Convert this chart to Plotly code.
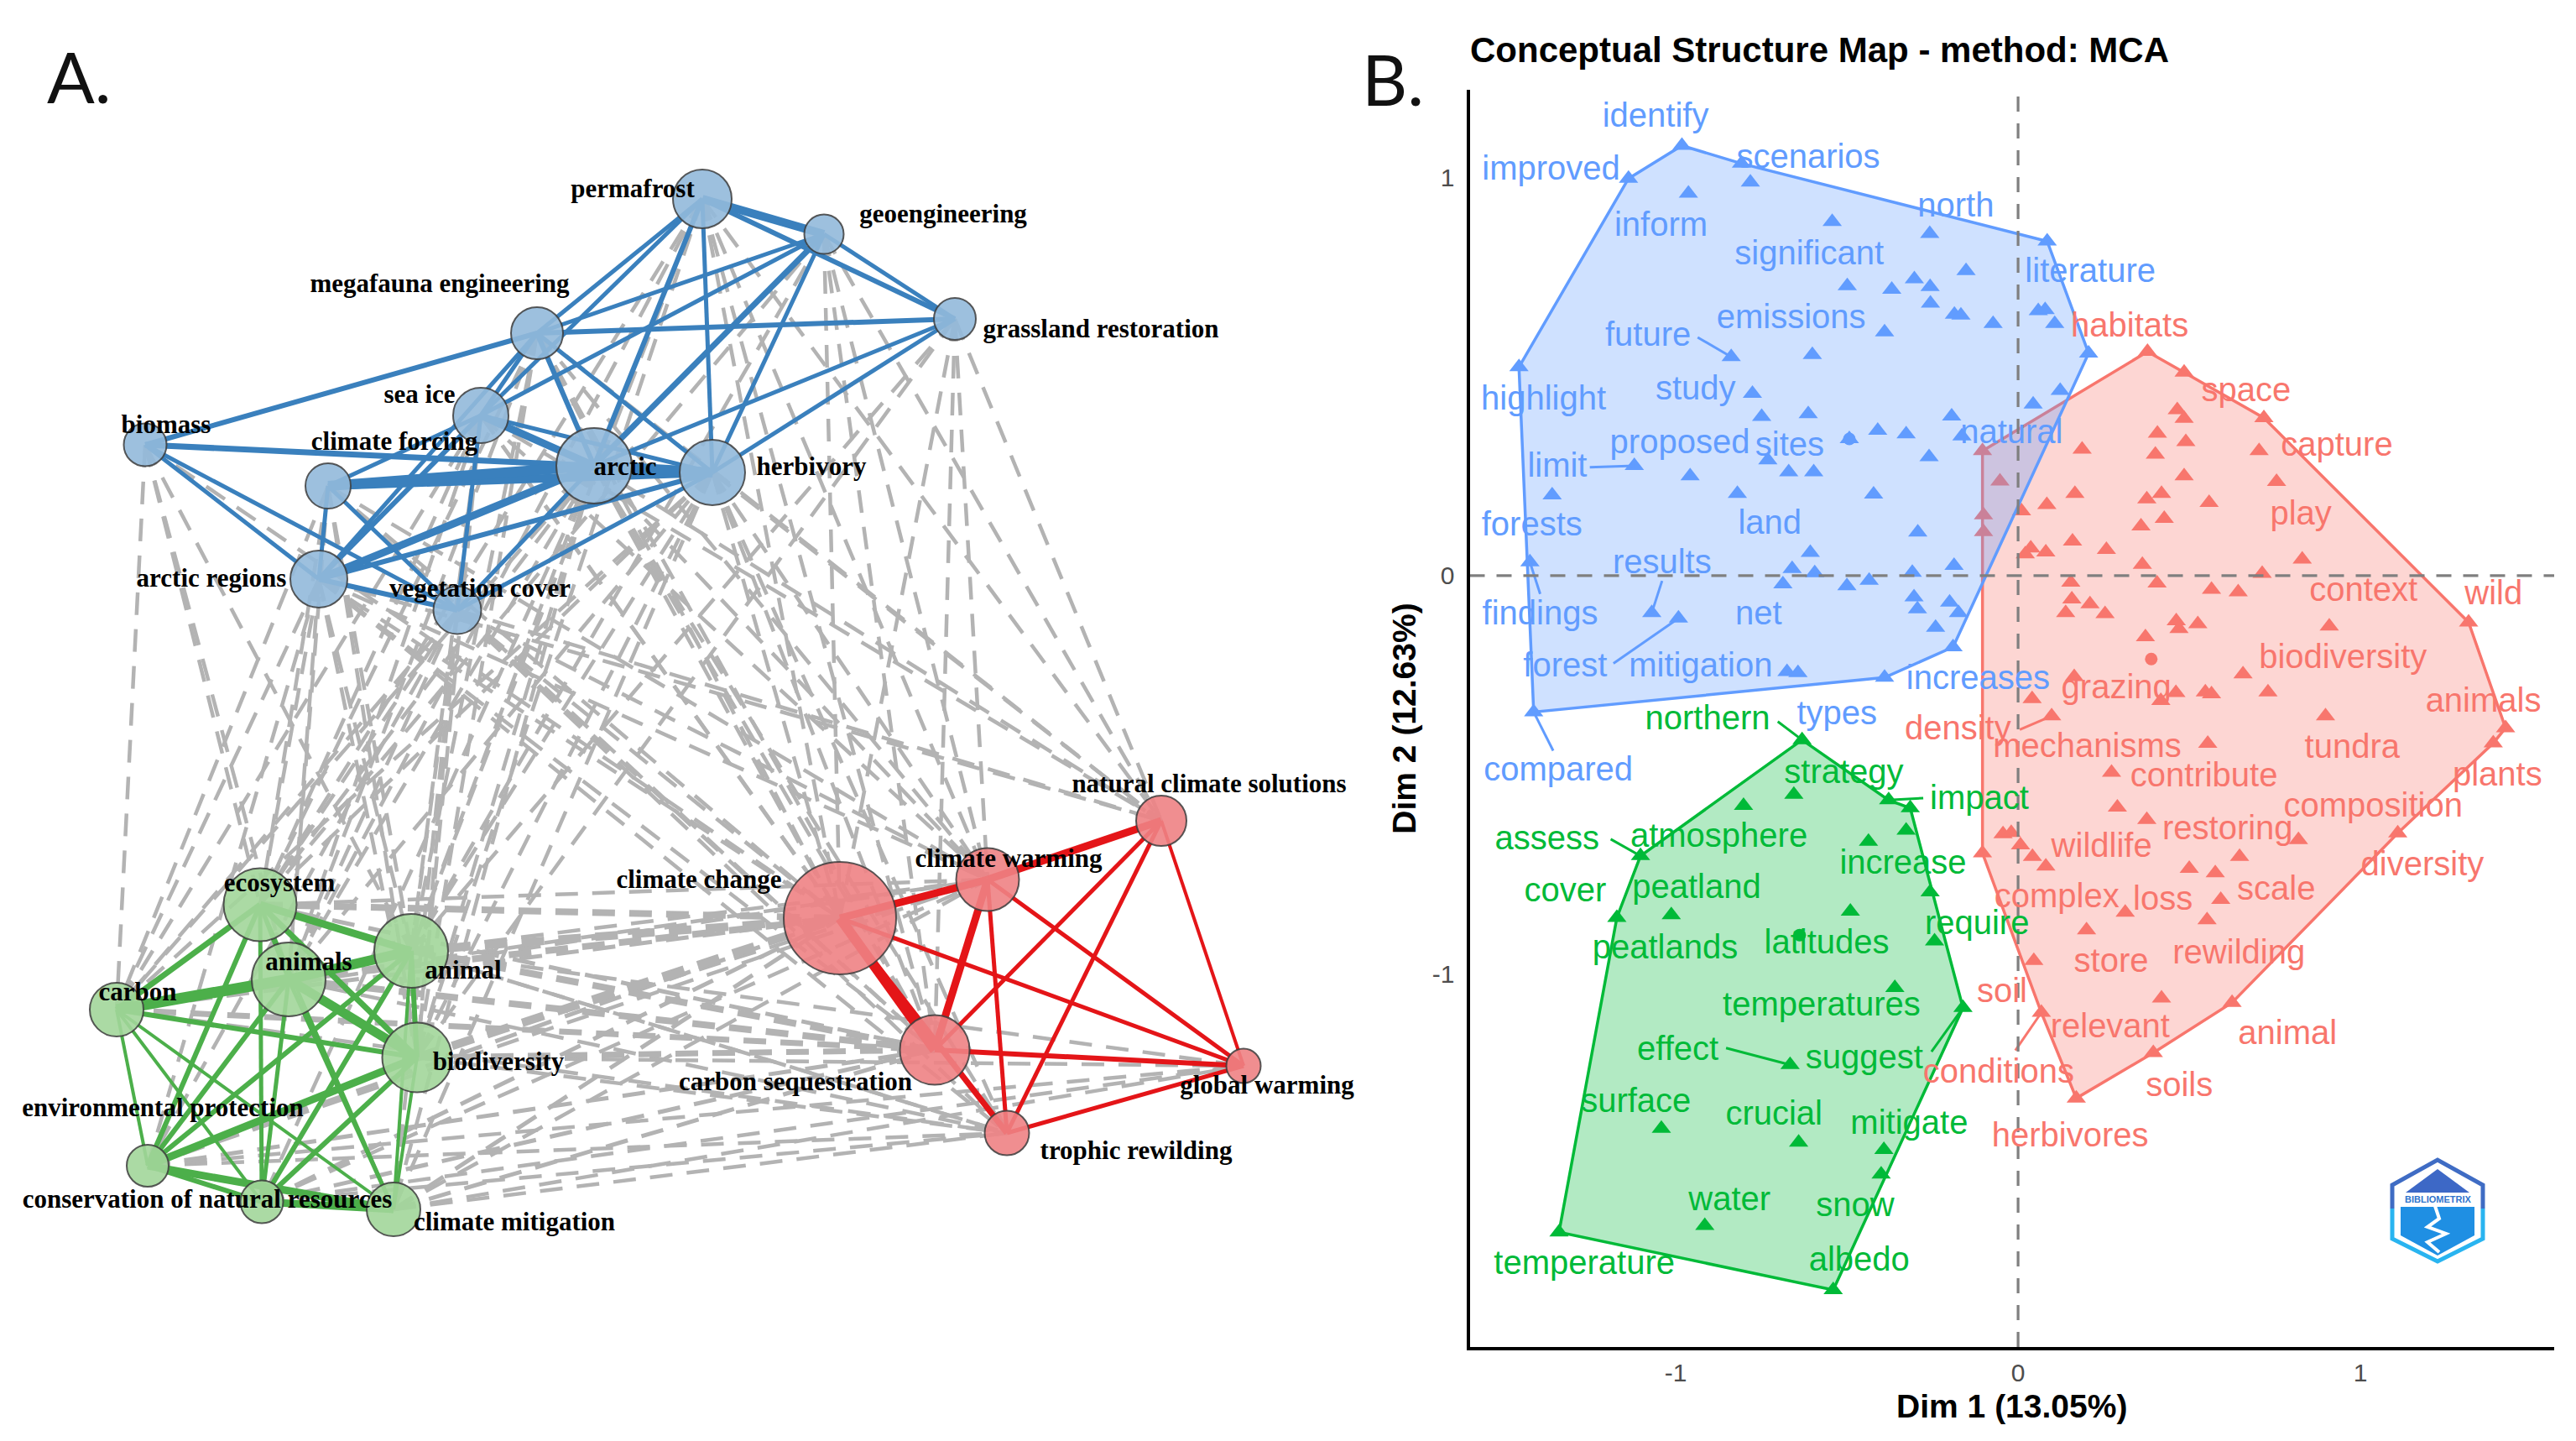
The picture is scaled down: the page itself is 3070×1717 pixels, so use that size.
import plotly.graph_objects as go

# ---------- Panel A: network ----------
node_names = ["permafrost", "geoengineering", "megafauna engineering", "grassland restoration", "sea ice", "biomass",
              "climate forcing", "arctic", "herbivory", "arctic regions", "vegetation cover",
              "ecosystem", "animal", "animals", "carbon", "biodiversity", "environmental protection",
              "conservation of natural resources", "climate mitigation",
              "climate change", "climate warming", "natural climate solutions", "carbon sequestration",
              "global warming", "trophic rewilding"]
node_cluster = ["b"] * 11 + ["g"] * 8 + ["r"] * 6
node_x = [837, 982, 640, 1138, 573, 173, 391, 708, 849, 380, 545, 310, 490, 344, 139, 497, 176, 312, 469, 1001, 1177, 1384, 1114, 1482, 1200]
node_y = [237, 279, 397, 380, 495, 530, 579, 555, 563, 690, 727, 1078, 1133, 1167, 1203, 1260, 1389, 1432, 1441, 1094, 1048, 978, 1251, 1270, 1350]
node_d = [70, 47, 62, 50, 66, 51, 54, 90, 78, 68, 57, 87, 88, 88, 64, 83, 50, 51, 64, 134, 75, 60, 83, 41, 53]
label_x = [754, 1124, 524, 1312, 500, 198, 470, 745, 967, 252, 572, 333, 552, 368, 164, 594, 194, 247, 613, 833, 1202, 1441, 948, 1510, 1354]
label_y = [227, 257, 340, 394, 472, 508, 528, 558, 558, 691, 703, 1054, 1158, 1148, 1184, 1267, 1322, 1431, 1458, 1050, 1025, 936, 1291, 1295, 1373]

blue_edges = [("permafrost", "geoengineering", 10), ("permafrost", "megafauna engineering", 5), ("permafrost", "sea ice", 5),
              ("permafrost", "arctic", 6), ("permafrost", "herbivory", 5), ("permafrost", "grassland restoration", 6),
              ("geoengineering", "megafauna engineering", 5), ("geoengineering", "sea ice", 5), ("geoengineering", "arctic", 7),
              ("geoengineering", "herbivory", 5), ("geoengineering", "grassland restoration", 5),
              ("megafauna engineering", "grassland restoration", 6), ("megafauna engineering", "biomass", 6),
              ("megafauna engineering", "sea ice", 5), ("megafauna engineering", "arctic", 6), ("megafauna engineering", "herbivory", 5),
              ("megafauna engineering", "arctic regions", 5),
              ("sea ice", "arctic", 9), ("sea ice", "herbivory", 5), ("sea ice", "climate forcing", 5), ("sea ice", "arctic regions", 6),
              ("sea ice", "vegetation cover", 5),
              ("biomass", "arctic", 7), ("biomass", "arctic regions", 5), ("biomass", "vegetation cover", 5),
              ("climate forcing", "arctic", 12), ("climate forcing", "herbivory", 10), ("climate forcing", "arctic regions", 5),
              ("climate forcing", "vegetation cover", 5),
              ("arctic", "herbivory", 12), ("arctic", "arctic regions", 9), ("arctic", "vegetation cover", 5), ("arctic", "grassland restoration", 5),
              ("herbivory", "grassland restoration", 5), ("herbivory", "arctic regions", 6), ("herbivory", "vegetation cover", 5),
              ("arctic regions", "vegetation cover", 6)]
green_edges = [("ecosystem", "animal", 9), ("ecosystem", "carbon", 7), ("ecosystem", "biodiversity", 7), ("ecosystem", "environmental protection", 6),
               ("ecosystem", "conservation of natural resources", 5), ("ecosystem", "animals", 5), ("ecosystem", "climate mitigation", 4),
               ("animals", "carbon", 13), ("animals", "animal", 12), ("animals", "biodiversity", 11), ("animals", "environmental protection", 6),
               ("animals", "conservation of natural resources", 5), ("animals", "climate mitigation", 5),
               ("animal", "biodiversity", 6), ("animal", "environmental protection", 6), ("animal", "conservation of natural resources", 6),
               ("animal", "climate mitigation", 4),
               ("carbon", "biodiversity", 6), ("carbon", "environmental protection", 4), ("carbon", "conservation of natural resources", 4),
               ("carbon", "climate mitigation", 4),
               ("biodiversity", "environmental protection", 9), ("biodiversity", "conservation of natural resources", 6), ("biodiversity", "climate mitigation", 4),
               ("environmental protection", "conservation of natural resources", 6), ("environmental protection", "climate mitigation", 9),
               ("conservation of natural resources", "climate mitigation", 9)]
red_edges = [("climate change", "climate warming", 9), ("climate warming", "natural climate solutions", 9), ("climate change", "carbon sequestration", 12),
             ("climate change", "trophic rewilding", 7), ("climate change", "global warming", 5), ("climate warming", "carbon sequestration", 9),
             ("climate warming", "trophic rewilding", 5), ("climate warming", "global warming", 5), ("natural climate solutions", "carbon sequestration", 5),
             ("natural climate solutions", "trophic rewilding", 5), ("natural climate solutions", "global warming", 4),
             ("carbon sequestration", "global warming", 6), ("trophic rewilding", "global warming", 5)]

blue_nodes_to_green = {
    "biomass": ["carbon", "ecosystem", "animals", "animal"],
    "arctic regions": ["carbon", "ecosystem", "animals", "animal", "biodiversity", "environmental protection"],
    "vegetation cover": ["carbon", "ecosystem", "animals", "animal", "biodiversity", "environmental protection", "climate mitigation"],
    "climate forcing": ["carbon", "ecosystem", "animals", "animal", "biodiversity"],
    "sea ice": ["carbon", "ecosystem", "animals", "animal", "biodiversity"],
    "megafauna engineering": ["ecosystem", "animals", "animal", "biodiversity"],
    "arctic": ["carbon", "ecosystem", "animals", "animal", "biodiversity", "conservation of natural resources", "climate mitigation"],
    "herbivory": ["carbon", "ecosystem", "animals", "animal", "biodiversity", "climate mitigation"],
    "permafrost": ["ecosystem", "animals", "animal", "biodiversity"],
    "geoengineering": ["ecosystem", "animal"],
    "grassland restoration": ["animal", "biodiversity"],
}
blue_nodes_to_red = {
    "biomass": ["climate change"],
    "arctic regions": ["climate change", "climate warming", "carbon sequestration", "natural climate solutions", "trophic rewilding"],
    "vegetation cover": ["climate change", "climate warming", "carbon sequestration", "natural climate solutions", "trophic rewilding"],
    "climate forcing": ["climate change", "climate warming", "carbon sequestration"],
    "sea ice": ["climate change", "climate warming", "carbon sequestration", "natural climate solutions"],
    "megafauna engineering": ["climate change", "climate warming", "carbon sequestration", "natural climate solutions"],
    "arctic": ["climate change", "climate warming", "carbon sequestration", "natural climate solutions", "trophic rewilding"],
    "herbivory": ["climate change", "climate warming", "carbon sequestration", "natural climate solutions", "trophic rewilding"],
    "permafrost": ["climate change", "climate warming", "carbon sequestration", "natural climate solutions"],
    "geoengineering": ["climate change", "climate warming", "carbon sequestration", "natural climate solutions"],
    "grassland restoration": ["climate change", "climate warming", "carbon sequestration", "natural climate solutions"],
}
green_nodes_to_red = {
    "ecosystem": ["climate warming", "trophic rewilding"],
    "animal": ["climate warming", "trophic rewilding", "global warming"],
    "animals": ["climate warming", "trophic rewilding"],
    "carbon": ["climate warming", "trophic rewilding"],
    "biodiversity": ["climate warming", "trophic rewilding", "global warming"],
    "environmental protection": ["climate warming", "trophic rewilding", "global warming"],
    "conservation of natural resources": ["climate warming", "trophic rewilding", "global warming"],
    "climate mitigation": ["climate warming", "trophic rewilding", "global warming"],
}
green_to_change_width = {"ecosystem": 8, "animal": 10, "animals": 8, "carbon": 5, "biodiversity": 10,
                         "environmental protection": 5, "conservation of natural resources": 5, "climate mitigation": 5}
green_to_seq_width = {"ecosystem": 5, "animal": 8, "animals": 8, "carbon": 7, "biodiversity": 7,
                      "environmental protection": 5, "conservation of natural resources": 5, "climate mitigation": 5}

# ---------- Panel B: conceptual map ----------
blue_hull_x = [-1.138, -0.982, -0.808, 0.085, 0.206, -0.190, -0.390, -1.415, -1.458]
blue_hull_y = [0.9965, 1.079, 1.034, 0.839, 0.558, -0.179, -0.2555, -0.342, 0.5235]
red_hull_x = [-0.104, 0.378, 0.485, 0.718, 1.316, 1.424, 1.388, 1.109, 0.625, 0.395, 0.170, 0.068, -0.104]
red_hull_y = [0.313, 0.562, 0.510, 0.396, -0.117, -0.382, -0.420, -0.646, -1.071, -1.197, -1.311, -1.096, -0.696]
green_hull_x = [-0.631, -0.378, -0.315, -0.161, -0.540, -1.341, -1.172, -1.103]
green_hull_y = [-0.412, -0.563, -0.583, -1.084, -1.792, -1.647, -0.858, -0.703]

blue_pts_x = [-0.782, -0.963, -0.543, -0.258, -0.152, -0.303, -0.257, -0.499, -0.369, -0.256, -0.186, -0.167, -0.073, -0.390, 0.059, 0.079, 0.107,
              -0.838, -0.601, -0.776, 0.123, 0.044, -0.749, -0.613, -0.194, -0.410, -0.327, -0.493, -0.164, -0.260, -0.731, -1.121, -0.670, -0.597,
              -0.958, -1.361, -0.820, -0.422, -0.293, -0.607, -0.660, -0.594, -0.687, -0.500, -0.435, -0.309, -0.187, -0.304, -0.294, -0.200, -0.174,
              -0.241, -1.070, -0.992, -0.675, -0.643, -1.426]
blue_pts_y = [0.987, 0.959, 0.888, 0.858, 0.765, 0.744, 0.725, 0.727, 0.718, 0.683, 0.655, 0.653, 0.632, 0.611, 0.664, 0.667, 0.632,
              0.549, 0.554, 0.457, 0.464, 0.430, 0.399, 0.406, 0.400, 0.364, 0.355, 0.343, 0.350, 0.298, 0.290, 0.276, 0.260, 0.260,
              0.250, 0.202, 0.206, 0.204, 0.109, 0.058, 0.0175, 0.007, -0.021, -0.026, -0.012, 0.008, 0.025, -0.054, -0.084, -0.067, -0.093,
              -0.130, -0.093, -0.107, -0.241, -0.244, 0.034]
red_pts_x = [0.465, 0.485, 0.407, 0.490, 0.187, 0.401, 0.704, 0.485, 0.755, -0.053, 0.166, 0.419, 0.376, 0.084, 0.010, 0.558, 0.427, 0.359, -0.101, -0.101,
             0.159, 0.037, 0.021, 0.081, 0.258, 0.363, 0.830, 0.713, 0.154, 0.406, 0.565, 0.643, 0.157, 0.210, 0.139, 0.254, 0.462, 0.525, 0.470, 0.909,
             0.372, 0.657, 0.164, 0.730, 0.461, 0.547, 0.565, 0.417, 0.041, 0.098, 0.898, 0.554, 0.273, 0.290, 0.376, -0.044, -0.020, 0.007, 0.042, 0.081,
             0.819, 0.647, 0.500, 0.576, 0.592, 0.313, 0.552, 0.200, 0.046, 0.419]
red_pts_y = [0.416, 0.394, 0.357, 0.336, 0.317, 0.304, 0.313, 0.250, 0.236, 0.237, 0.206, 0.206, 0.192, 0.178, 0.162, 0.183, 0.143, 0.124, 0.152, 0.110,
             0.086, 0.069, 0.054, 0.059, 0.065, 0.028, 0.041, 0.005, -0.017, -0.019, -0.035, -0.041, -0.059, -0.071, -0.093, -0.096, -0.114, -0.121, -0.133, -0.127,
             -0.154, -0.247, -0.254, -0.292, -0.294, -0.292, -0.297, -0.314, -0.309, -0.352, -0.352, -0.421, -0.494, -0.581, -0.612, -0.648, -0.645, -0.676, -0.705, -0.729,
             -0.663, -0.705, -0.735, -0.746, -0.813, -0.845, -0.864, -0.889, -0.966, -1.060]
green_pts_x = [-0.802, -0.655, -0.327, -0.437, -0.257, -0.490, -1.013, -0.244, -0.360, -0.666, -1.042, -0.641, -0.392, -0.400, -0.915]
green_pts_y = [-0.577, -0.549, -0.639, -0.667, -0.794, -0.842, -0.851, -0.917, -1.034, -1.227, -1.387, -1.422, -1.440, -1.502, -1.631]
centroid_x = [-0.493, 0.389, -0.638]
centroid_y = [0.343, -0.209, -0.9015]

blue_words = ["identify", "improved", "scenarios", "north", "inform", "significant", "literature", "emissions", "future", "study",
              "highlight", "proposed", "sites", "natural", "limit", "forests", "land", "results", "findings", "net", "forest",
              "mitigation", "increases", "types", "compared"]
blue_words_x = [-1.059, -1.364, -0.613, -0.182, -1.043, -0.610, 0.211, -0.663, -1.081, -0.942, -1.386, -0.988, -0.667, -0.019, -1.346, -1.420,
                -0.725, -1.040, -1.396, -0.758, -1.323, -0.927, -0.117, -0.529, -1.343]
blue_words_y = [1.147, 1.014, 1.045, 0.922, 0.873, 0.803, 0.758, 0.642, 0.598, 0.463, 0.438, 0.329, 0.323, 0.354, 0.270, 0.122, 0.126, 0.028,
                -0.102, -0.102, -0.232, -0.232, -0.264, -0.351, -0.492]
green_words = ["northern", "strategy", "impact", "assess", "atmosphere", "increase", "cover", "peatland", "require", "peatlands", "latitudes",
               "temperatures", "effect", "suggest", "surface", "crucial", "mitigate", "water", "snow", "albedo", "temperature"]
green_words_x = [-0.907, -0.509, -0.113, -1.376, -0.874, -0.336, -1.323, -0.939, -0.120, -1.031, -0.559, -0.574, -0.994, -0.449, -1.116, -0.713,
                 -0.318, -0.843, -0.476, -0.464, -1.267]
green_words_y = [-0.364, -0.499, -0.565, -0.666, -0.660, -0.727, -0.795, -0.788, -0.879, -0.939, -0.927, -1.083, -1.193, -1.215, -1.325, -1.355,
                 -1.379, -1.571, -1.586, -1.723, -1.730]
red_words = ["habitats", "space", "capture", "play", "context", "wild", "biodiversity", "grazing", "animals", "density", "mechanisms", "tundra",
             "contribute", "plants", "composition", "restoring", "wildlife", "diversity", "complex", "loss", "scale", "store", "rewilding", "soil",
             "relevant", "animal", "conditions", "soils", "herbivores"]
red_words_x = [0.326, 0.666, 0.931, 0.826, 1.009, 1.389, 0.949, 0.287, 1.359, -0.176, 0.202, 0.976, 0.543, 1.400, 1.037, 0.612, 0.244, 1.181, 0.113,
               0.423, 0.754, 0.272, 0.645, -0.047, 0.269, 0.787, -0.057, 0.471, 0.152]
red_words_y = [0.622, 0.458, 0.322, 0.150, -0.042, -0.050, -0.211, -0.287, -0.320, -0.390, -0.433, -0.435, -0.508, -0.505, -0.584, -0.641, -0.684,
               -0.730, -0.811, -0.818, -0.791, -0.972, -0.951, -1.049, -1.137, -1.154, -1.250, -1.284, -1.411]

blue_links = [(-0.936, 0.598, -0.838, 0.549), (-1.251, 0.272, -1.121, 0.276), (-1.396, -0.046, -1.426, 0.034),
              (-1.040, -0.013, -1.070, -0.093), (-1.182, -0.220, -0.992, -0.107), (-1.358, -0.439, -1.415, -0.342)]
green_links = [(-0.702, -0.366, -0.631, -0.412), (-1.190, -0.661, -1.103, -0.703), (-0.277, -0.558, -0.378, -0.563),
               (-0.853, -1.185, -0.666, -1.227), (-0.253, -1.194, -0.161, -1.084)]
red_links = [(0.005, -0.386, 0.098, -0.352), (-0.008, -1.191, 0.068, -1.096)]

x_ticks = [-1, 0, 1]
y_ticks = [-1, 0, 1]
x_range = [-1.602, 1.566]
y_range = [-1.935, 1.219]

# ---------- colours ----------
EDGE = {"b": "#3a80bd", "g": "#4caf4a", "r": "#e41518"}
NODE = {"b": "rgba(146,185,218,0.9)", "g": "rgba(162,214,154,0.9)", "r": "rgba(238,130,132,0.9)"}
C_BLUE, C_GREEN, C_RED = "#619CFF", "#00BA38", "#F8766D"
F_BLUE, F_GREEN, F_RED = "rgba(97,156,255,0.3)", "rgba(0,186,56,0.3)", "rgba(248,118,109,0.3)"
GREY = "#b3b3b3"

# ---------- page geometry (page body offset is 8 px) ----------
W, H = 3054, 1701
def px(x): return (x - 8) / W
def py(y): return 1 - (y - 8) / H

fig = go.Figure()
pos = {n: (x, y) for n, x, y in zip(node_names, node_x, node_y)}

def edge_trace(edges, color, dash=None):
    groups = {}
    for a, b, w in edges:
        groups.setdefault(w, []).append((a, b))
    for w, pairs in sorted(groups.items()):
        xs, ys = [], []
        for a, b in pairs:
            xs += [pos[a][0], pos[b][0], None]
            ys += [pos[a][1], pos[b][1], None]
        fig.add_trace(go.Scatter(x=xs, y=ys, mode="lines", hoverinfo="skip", showlegend=False, xaxis="x", yaxis="y",
                                 line=dict(color=color, width=w, dash=dash)))

grey = []
for table in (blue_nodes_to_green, blue_nodes_to_red, green_nodes_to_red):
    for s, ts in table.items():
        grey += [(s, t, 4.5) for t in ts]
grey += [(s, "climate change", w) for s, w in green_to_change_width.items()]
grey += [(s, "carbon sequestration", w) for s, w in green_to_seq_width.items()]
edge_trace(grey, GREY, dash="27px,17px")
edge_trace(blue_edges, EDGE["b"])
edge_trace(green_edges, EDGE["g"])
edge_trace(red_edges, EDGE["r"])

fig.add_trace(go.Scatter(x=node_x, y=node_y, mode="markers", hoverinfo="text", hovertext=node_names, showlegend=False, xaxis="x", yaxis="y",
                         marker=dict(size=node_d, color=[NODE[c] for c in node_cluster], opacity=1,
                                     line=dict(color="rgba(60,60,60,0.85)", width=2))))
fig.add_trace(go.Scatter(x=label_x, y=label_y, mode="text", text=[f"<b>{n}</b>" for n in node_names], textposition="middle center",
                         hoverinfo="skip", showlegend=False, xaxis="x", yaxis="y", cliponaxis=False,
                         textfont=dict(family="Liberation Serif", size=31, color="#000000")))

def hull(xs, ys, line, fill):
    fig.add_trace(go.Scatter(x=xs + xs[:1], y=ys + ys[:1], mode="lines", fill="toself", fillcolor=fill, hoverinfo="skip",
                             showlegend=False, xaxis="x2", yaxis="y2", cliponaxis=False, line=dict(color=line, width=3.5)))

def pts(xs, ys, color):
    fig.add_trace(go.Scatter(x=xs, y=ys, mode="markers", hoverinfo="skip", showlegend=False, xaxis="x2", yaxis="y2",
                             marker=dict(symbol="triangle-up", size=20, color=color)))

def links(segs, color):
    xs, ys = [], []
    for a, b, c, d in segs:
        xs += [a, c, None]
        ys += [b, d, None]
    fig.add_trace(go.Scatter(x=xs, y=ys, mode="lines", hoverinfo="skip", showlegend=False, xaxis="x2", yaxis="y2",
                             line=dict(color=color, width=3)))

def words(txt, xs, ys, color):
    fig.add_trace(go.Scatter(x=xs, y=ys, mode="text", text=txt, textposition="middle center", hoverinfo="skip", showlegend=False,
                             xaxis="x2", yaxis="y2", cliponaxis=False,
                             textfont=dict(family="Liberation Sans", size=40, color=color)))

# red, then green, then blue: blue veil falls over red where hulls overlap
hull(red_hull_x, red_hull_y, C_RED, "rgba(0,0,0,0)")
pts(red_pts_x + red_hull_x, red_pts_y + red_hull_y, C_RED)
links(red_links, C_RED)
hull(red_hull_x, red_hull_y, "rgba(0,0,0,0)", F_RED)
hull(green_hull_x, green_hull_y, C_GREEN, F_GREEN)
pts(green_pts_x + green_hull_x, green_pts_y + green_hull_y, C_GREEN)
links(green_links, C_GREEN)
hull(blue_hull_x, blue_hull_y, C_BLUE, F_BLUE)
pts(blue_pts_x + blue_hull_x, blue_pts_y + blue_hull_y, C_BLUE)
links(blue_links, C_BLUE)
fig.add_trace(go.Scatter(x=centroid_x, y=centroid_y, mode="markers", hoverinfo="skip", showlegend=False, xaxis="x2", yaxis="y2",
                         marker=dict(symbol="circle", size=15, color=[C_BLUE, C_RED, C_GREEN])))

for xs, ys in ((x_range, [0, 0]), ([0, 0], y_range)):
    fig.add_trace(go.Scatter(x=xs, y=ys, mode="lines", hoverinfo="skip", showlegend=False, xaxis="x2", yaxis="y2",
                             line=dict(color="#7f7f7f", width=3.2, dash="18px,14px")))

words(red_words, red_words_x, red_words_y, C_RED)
words(green_words, green_words_x, green_words_y, C_GREEN)
words(blue_words, blue_words_x, blue_words_y, C_BLUE)

# ---------- logo drawn as paper shapes ----------
def poly(points, fill="rgba(0,0,0,0)", line=None, lw=0):
    path = "M " + " L ".join(f"{px(x):.5f},{py(y):.5f}" for x, y in points) + " Z"
    return dict(type="path", xref="paper", yref="paper", path=path, fillcolor=fill, line=dict(color=line or "rgba(0,0,0,0)", width=lw), layer="above")
def oline(points, color, lw):
    path = "M " + " L ".join(f"{px(x):.5f},{py(y):.5f}" for x, y in points)
    return dict(type="path", xref="paper", yref="paper", path=path, line=dict(color=color, width=lw), layer="above")
cx = 2905
shapes = [
    oline([(cx - 54, 1440), (cx - 54, 1412), (cx, 1382), (cx + 54, 1412), (cx + 54, 1440)], "#3f6cc4", 5),
    oline([(cx - 54, 1440), (cx - 54, 1476), (cx, 1503), (cx + 54, 1476), (cx + 54, 1440)], "#29b4f0", 5),
    poly([(cx, 1393), (cx + 38, 1421), (cx - 38, 1421)], "#3d68c6"),
    poly([(cx - 44, 1438), (cx + 44, 1438), (cx + 44, 1472), (cx, 1496), (cx - 44, 1472)], "#1f8fe3"),
    oline([(cx - 4, 1434), (cx + 2, 1452), (cx - 12, 1462), (cx + 10, 1470), (cx - 12, 1480), (cx + 2, 1492)], "#ffffff", 4),
]

annots = [
    dict(text="A.", x=px(94), y=py(90), xref="paper", yref="paper", xanchor="center", yanchor="middle", showarrow=False,
         font=dict(family="Lato", size=84, color="#111111")),
    dict(text="B.", x=px(1660), y=py(94), xref="paper", yref="paper", xanchor="center", yanchor="middle", showarrow=False,
         font=dict(family="Lato", size=84, color="#111111")),
    dict(text="<b>BIBLIOMETRIX</b>", x=px(cx), y=py(1429), xref="paper", yref="paper", xanchor="center", yanchor="middle", showarrow=False,
         font=dict(family="Liberation Sans", size=11, color="#2f74cc")),
]

axis_font = dict(family="Liberation Sans", size=30, color="#4d4d4d")
title_font = dict(family="Liberation Sans", size=39, color="#000000")
fig.update_layout(
    width=W, height=H, margin=dict(l=0, r=0, t=0, b=0), paper_bgcolor="white", plot_bgcolor="white", showlegend=False,
    shapes=shapes, annotations=annots,
    title=dict(text="<b>Conceptual Structure Map - method: MCA</b>", x=px(1752), xanchor="left", y=py(59), yanchor="middle",
               font=dict(family="Liberation Sans", size=42, color="#000000")),
    xaxis=dict(domain=[0, px(1668)], range=[8, 1668], visible=False, fixedrange=True),
    yaxis=dict(domain=[0, 1], range=[1709, 8], visible=False, fixedrange=True),
    xaxis2=dict(domain=[px(1751.5), px(3044)], range=x_range, anchor="y2", tickvals=x_ticks, ticktext=[str(t) for t in x_ticks],
                showgrid=False, zeroline=False, showline=True, linecolor="black", linewidth=4, ticks="outside", ticklen=1,
                tickcolor="rgba(0,0,0,0)", tickfont=axis_font, title=dict(text="<b>Dim 1 (13.05%)</b>", font=title_font, standoff=12)),
    yaxis2=dict(domain=[py(1605), py(107)], range=y_range, anchor="x2", tickvals=y_ticks, ticktext=[str(t) for t in y_ticks],
                showgrid=False, zeroline=False, showline=True, linecolor="black", linewidth=4, ticks="outside", ticklen=8,
                tickcolor="rgba(0,0,0,0)", tickfont=axis_font, title=dict(text="<b>Dim 2 (12.63%)</b>", font=title_font, standoff=8)),
)

fig.write_html("out.html")
